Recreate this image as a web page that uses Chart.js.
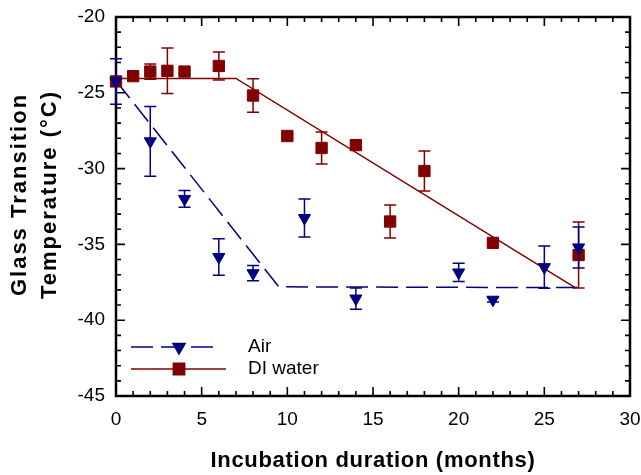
<!DOCTYPE html>
<html>
<head>
<meta charset="utf-8">
<script src="https://cdn.jsdelivr.net/npm/chart.js@4"></script>
<style>
    html, body { margin: 0; padding: 0; background: #fff; }
    #chartContainer { width: 641px; height: 475px; }
</style>
</head>
<body>
<div id="chartContainer"><canvas id="theChart" width="641" height="475"></canvas></div>
<script>
// Air-incubated samples
const airMonths = [0, 2, 4, 6, 8, 11, 14, 20, 22, 25, 27];
const airTg = [-24.25, -28.2, -32.0, -35.83, -36.9, -33.26, -38.57, -36.85, -38.65, -36.5, -35.2];
const airErr = [1.5, 2.3, 0.55, 1.2, 0.5, 1.25, 0.7, 0.6, 0.15, 1.4, 1.35];

// DI water-incubated samples
const waterMonths = [0, 1, 2, 3, 4, 6, 8, 10, 12, 14, 16, 18, 22, 27];
const waterTg = [-24.25, -23.9, -23.6, -23.55, -23.6, -23.23, -25.18, -27.85, -28.64, -28.45, -33.49, -30.16, -34.9, -35.7];
const waterErr = [0, 0.15, 0.5, 1.5, 0.15, 0.92, 1.1, 0.15, 1.05, 0.3, 1.09, 1.32, 0.2, 2.18];

// piecewise fit lines
const airFitMonths = [0, 9.5, 27];
const airFitTg = [-24.2, -37.8, -37.85];
const waterFitMonths = [0, 7, 26.8];
const waterFitTg = [-24.05, -24.05, -37.85];

const airColor = "#000080";
const waterColor = "#800000";
const fontFamily = '"Liberation Sans", Arial, sans-serif';

const toPoints = (xs, ys) => xs.map((x, i) => ({ x: x, y: ys[i] }));

// the original titles are set a bit wider than plain Arial, so spread the letters
function spreadTitle(scale, spacing, dy) {
    if (scale._spread) return;
    scale._spread = true;
    const drawTitle = scale.drawTitle.bind(scale);
    scale.drawTitle = () => {
        const c = scale.ctx;
        c.save();
        c.letterSpacing = spacing;
        c.translate(0, dy);
        drawTitle();
        c.restore();
    };
}

// vertical error bars, drawn just before each dataset's own markers
const errorBars = {
    id: "errorBars",
    beforeDatasetDraw(chart, args) {
        const ds = chart.data.datasets[args.index];
        if (!ds.errors) return;
        const ctx = chart.ctx;
        const xs = chart.scales.x, ys = chart.scales.y;
        ctx.save();
        ctx.strokeStyle = ds.borderColor;
        ctx.lineWidth = 1.5;
        ds.data.forEach((p, i) => {
            const e = ds.errors[i];
            if (!e) return;
            const px = xs.getPixelForValue(p.x);
            const top = ys.getPixelForValue(p.y + e);
            const bot = ys.getPixelForValue(p.y - e);
            ctx.beginPath();
            ctx.moveTo(px, top); ctx.lineTo(px, bot);
            ctx.moveTo(px - 6, top); ctx.lineTo(px + 6, top);
            ctx.moveTo(px - 6, bot); ctx.lineTo(px + 6, bot);
            ctx.stroke();
        });
        ctx.restore();
    }
};

// box frame with inward ticks on all four sides
const frame = {
    id: "frame",
    beforeDatasetsDraw(chart) {
        const { ctx, chartArea: a, scales: { x, y } } = chart;
        ctx.save();
        ctx.strokeStyle = "#000";
        ctx.lineWidth = 1.6;
        ctx.beginPath();
        for (let v = x.min; v <= x.max; v++) {
            const px = x.getPixelForValue(v);
            const len = v % 5 === 0 ? 9 : 5;
            ctx.moveTo(px, a.bottom); ctx.lineTo(px, a.bottom - len);
            ctx.moveTo(px, a.top); ctx.lineTo(px, a.top + len);
        }
        for (let v = y.min; v <= y.max; v++) {
            const py = y.getPixelForValue(v);
            const len = v % 5 === 0 ? 9 : 5;
            ctx.moveTo(a.left, py); ctx.lineTo(a.left + len, py);
            ctx.moveTo(a.right, py); ctx.lineTo(a.right - len, py);
        }
        ctx.stroke();
        ctx.lineWidth = 2.5;
        ctx.strokeRect(a.left, a.top, a.right - a.left, a.bottom - a.top);
        ctx.restore();
    }
};

// Origin-style legend: line sample with the marker in the middle
const legendBox = {
    id: "legendBox",
    afterDatasetsDraw(chart) {
        const { ctx, chartArea: a } = chart;
        const rows = [
            { label: "Air", color: airColor, dash: [22, 8], style: "triangle", rotation: 180, radius: 7, y: a.top + 330, x2: a.left + 102 },
            { label: "DI water", color: waterColor, dash: [], style: "rect", rotation: 0, radius: 8, y: a.top + 352, x2: a.left + 110 }
        ];
        ctx.save();
        rows.forEach((r) => {
            ctx.strokeStyle = r.color;
            ctx.fillStyle = r.color;
            ctx.lineWidth = 1.5;
            ctx.setLineDash(r.dash);
            ctx.beginPath();
            ctx.moveTo(a.left + 15, r.y);
            ctx.lineTo(r.x2, r.y);
            ctx.stroke();
            ctx.setLineDash([]);
            Chart.helpers.drawPoint(ctx, { pointStyle: r.style, rotation: r.rotation, radius: r.radius, borderWidth: 1 }, a.left + 63, r.y);
            ctx.fillStyle = "#000";
            ctx.font = "19px " + fontFamily;
            ctx.textBaseline = "middle";
            ctx.textAlign = "left";
            ctx.fillText(r.label, a.left + 132, r.y);
        });
        ctx.restore();
    }
};

const ctx = document.getElementById("theChart");
const theChart = new Chart(ctx, {
    type: "scatter",
    data: {
        datasets: [
            {
                label: "Air",
                data: toPoints(airMonths, airTg),
                errors: airErr,
                borderColor: airColor,
                backgroundColor: airColor,
                pointStyle: "triangle",
                rotation: 180,
                pointRadius: 7,
                borderWidth: 1,
                clip: false,
                order: 0
            },
            {
                label: "DI water",
                data: toPoints(waterMonths, waterTg),
                errors: waterErr,
                borderColor: waterColor,
                backgroundColor: waterColor,
                pointStyle: "rect",
                pointRadius: 8,
                borderWidth: 1,
                clip: false,
                order: 1
            },
            {
                type: "line",
                label: "Air fit",
                data: toPoints(airFitMonths, airFitTg),
                borderColor: airColor,
                borderWidth: 1.5,
                borderDash: [22, 8],
                pointRadius: 0,
                fill: false,
                order: 2
            },
            {
                type: "line",
                label: "DI water fit",
                data: toPoints(waterFitMonths, waterFitTg),
                borderColor: waterColor,
                borderWidth: 1.5,
                pointRadius: 0,
                fill: false,
                order: 3
            }
        ]
    },
    options: {
        responsive: false,
        animation: false,
        layout: { padding: { left: 0, top: 17, right: 11, bottom: 0 } },
        plugins: {
            legend: { display: false },
            tooltip: { enabled: false }
        },
        scales: {
            x: {
                type: "linear",
                min: 0,
                max: 30,
                afterFit: (scale) => {
                    scale.height = 79;
                    scale.paddingLeft = 0; // don't let tick labels shrink the plot
                    scale.paddingRight = 0;
                    spreadTitle(scale, "0.7px", 0);
                },
                grid: { display: false, drawTicks: false },
                border: { display: false },
                ticks: { stepSize: 5, padding: 12, color: "#000", font: { family: fontFamily, size: 19 } },
                title: {
                    display: true,
                    text: "Incubation duration (months)",
                    color: "#000",
                    padding: { top: 0, bottom: 1 },
                    font: { family: fontFamily, size: 22, weight: "bold", lineHeight: 1.2 }
                }
            },
            y: {
                min: -45,
                max: -20,
                afterFit: (scale) => {
                    scale.width = 116;
                    scale.paddingTop = 0;
                    scale.paddingBottom = 0;
                    spreadTitle(scale, "2px", -12);
                },
                grid: { display: false, drawTicks: false },
                border: { display: false },
                ticks: { stepSize: 5, padding: 11, color: "#000", font: { family: fontFamily, size: 19 } },
                title: {
                    display: true,
                    text: ["Glass Transition", "Temperature (°C)"],
                    color: "#000",
                    padding: { top: 5, bottom: 0 },
                    font: { family: fontFamily, size: 22, weight: "bold", lineHeight: 1.36 }
                }
            }
        }
    },
    plugins: [frame, errorBars, legendBox]
});
</script>
</body>
</html>
